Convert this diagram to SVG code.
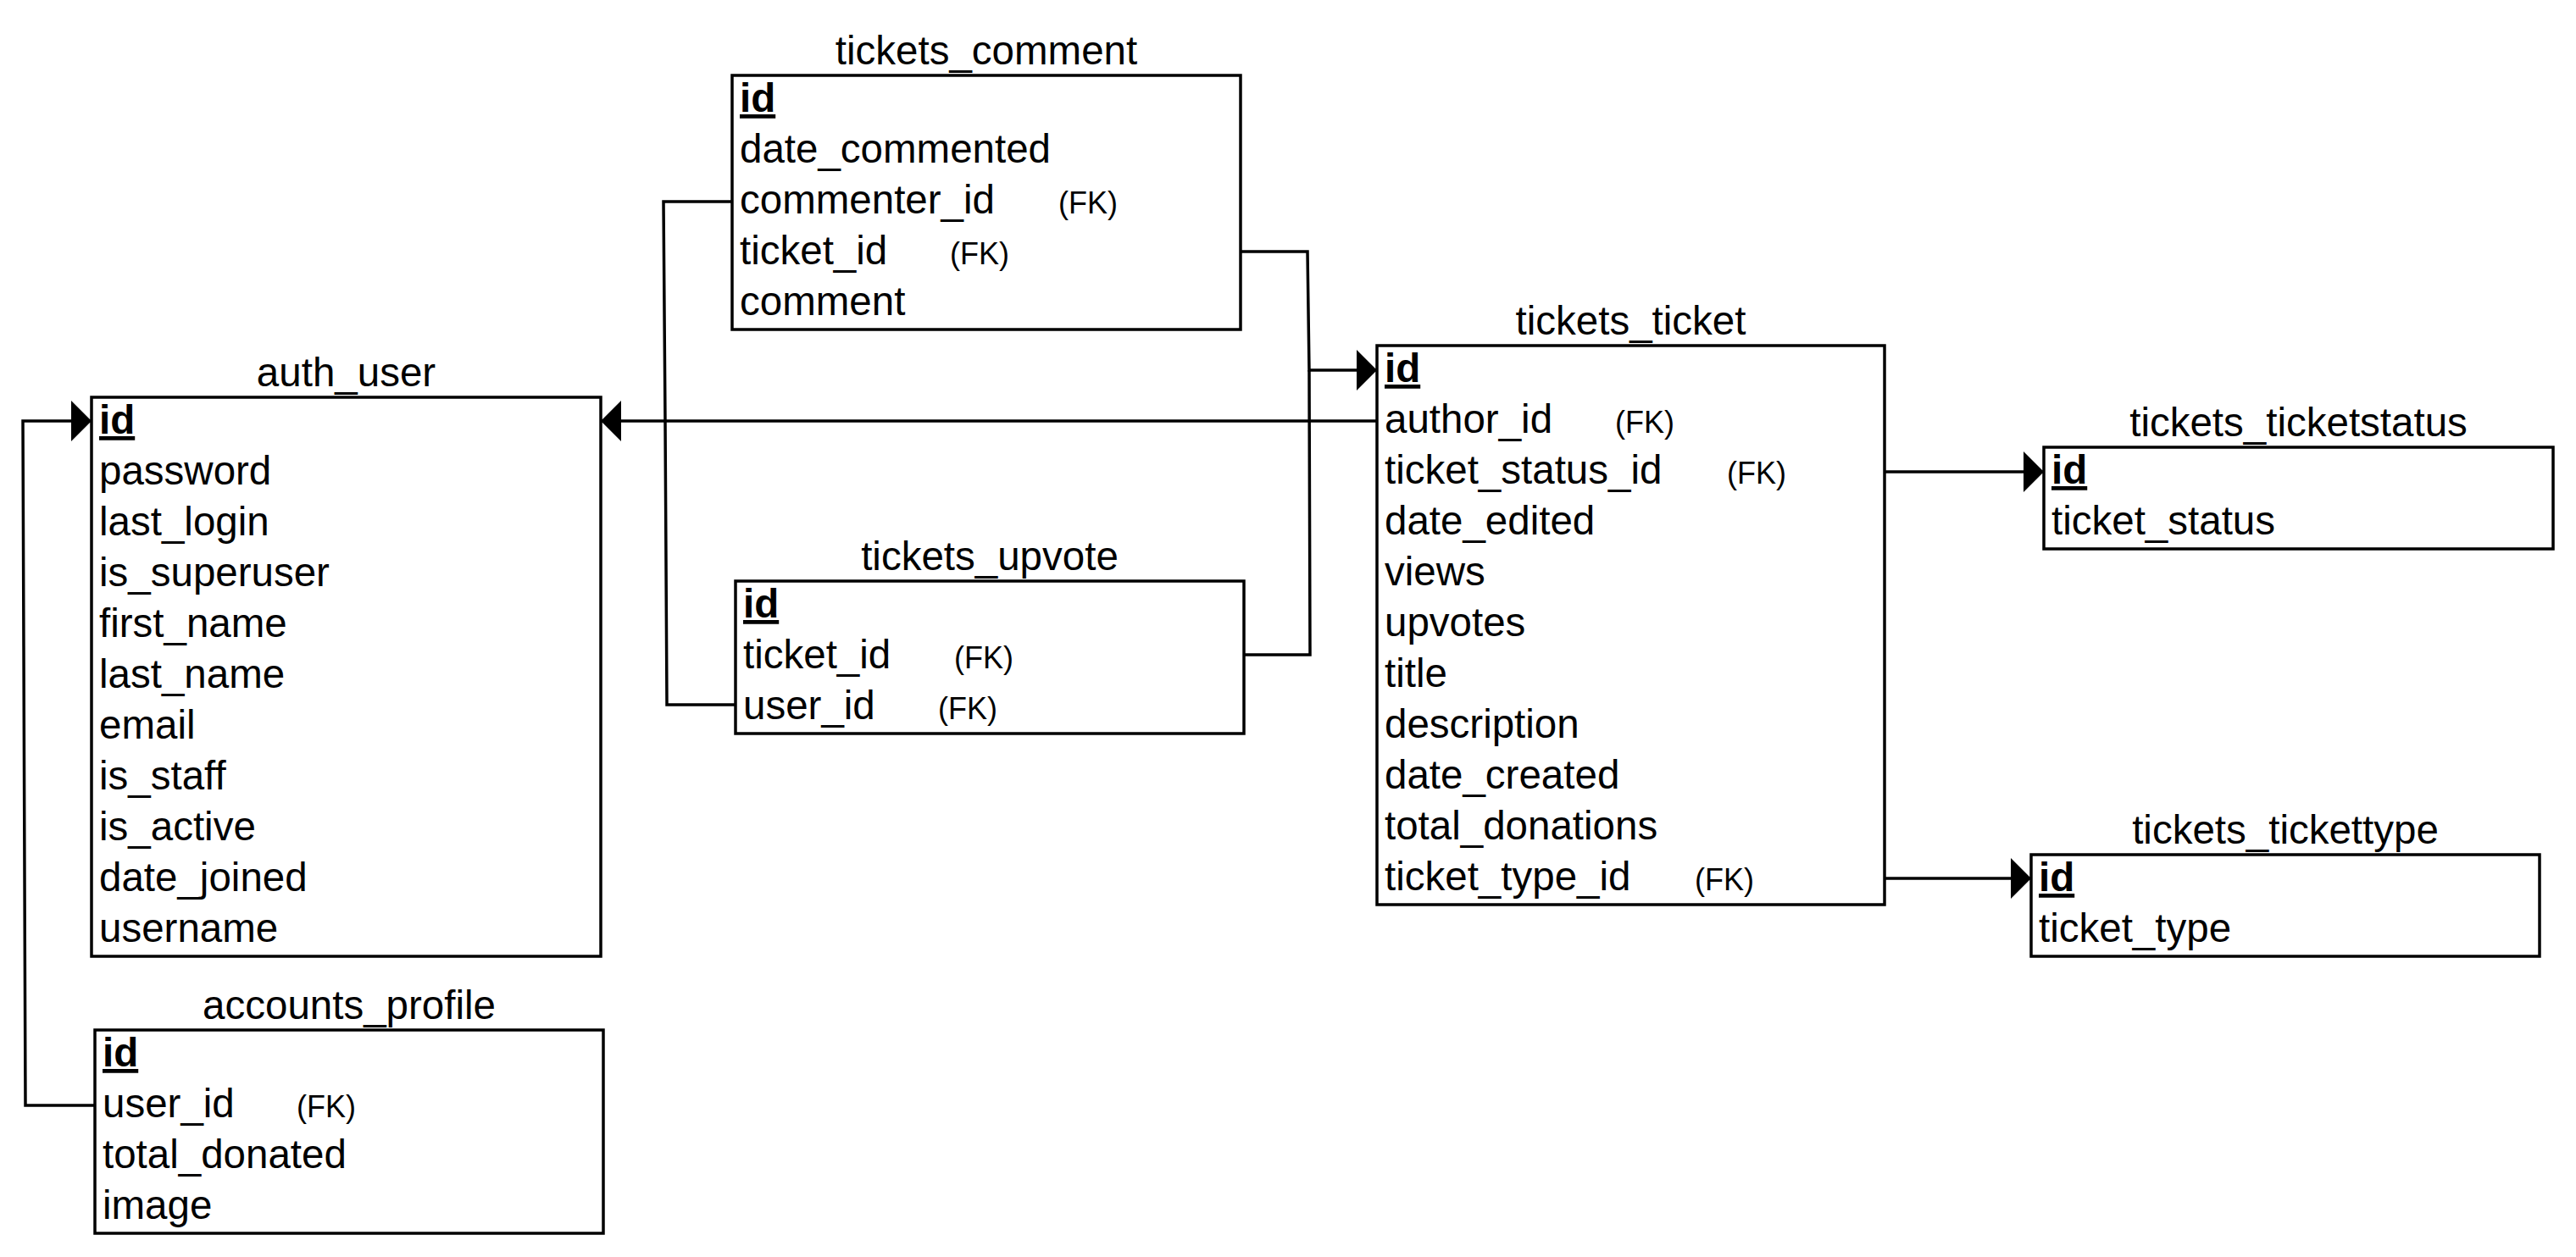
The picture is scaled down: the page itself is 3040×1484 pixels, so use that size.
<svg xmlns="http://www.w3.org/2000/svg" width="3040" height="1484" viewBox="0 0 3040 1484">
<style>
  .box { fill: #ffffff; stroke: #000000; stroke-width: 3.5; }
  .t { font-family: "Liberation Sans", Arial, sans-serif; font-size: 47.5px; fill: #000000; }
  .title { font-family: "Liberation Sans", Arial, sans-serif; font-size: 47.5px; fill: #000000; text-anchor: middle; }
  .pk { font-weight: bold; text-decoration: underline; }
  .fk { font-family: "Liberation Sans", Arial, sans-serif; font-size: 36px; fill: #000000; }
  .conn { fill: none; stroke: #000000; stroke-width: 3.5; stroke-linejoin: miter; }
  .arr { marker-end: url(#block); }
</style>
<defs>
  <marker id="block" markerUnits="userSpaceOnUse" markerWidth="24" markerHeight="48" refX="24" refY="24" orient="auto" viewBox="0 0 24 48">
    <path d="M0,0 L24,24 L0,48 Z" fill="#000000"/>
  </marker>
</defs>
<rect width="3040" height="1484" fill="#ffffff"/>

<g id="connectors">
  <path class="conn arr" d="M112,1305 H30 L27,497 H108"/>
  <path class="conn arr" d="M1625,497 H709"/>
  <path class="conn" d="M864,238 H783 L785,497"/>
  <path class="conn" d="M868,832 H787 L785,497"/>
  <path class="conn arr" d="M1464,297 H1543 L1545,437 H1625"/>
  <path class="conn" d="M1468,773 H1546 L1545,437"/>
  <path class="conn arr" d="M2224,557 H2412"/>
  <path class="conn arr" d="M2224,1037 H2397"/>
</g>

<g id="auth_user">
  <text class="title" x="408.5" y="456">auth_user</text>
  <rect class="box" x="108" y="469" width="601" height="660"/>
  <text class="t pk" x="117" y="512">id</text>
  <text class="t" x="117" y="572">password</text>
  <text class="t" x="117" y="632">last_login</text>
  <text class="t" x="117" y="692">is_superuser</text>
  <text class="t" x="117" y="752">first_name</text>
  <text class="t" x="117" y="812">last_name</text>
  <text class="t" x="117" y="872">email</text>
  <text class="t" x="117" y="932">is_staff</text>
  <text class="t" x="117" y="992">is_active</text>
  <text class="t" x="117" y="1052">date_joined</text>
  <text class="t" x="117" y="1112">username</text>
</g>

<g id="accounts_profile">
  <text class="title" x="412" y="1203">accounts_profile</text>
  <rect class="box" x="112" y="1216" width="600" height="240"/>
  <text class="t pk" x="121" y="1259">id</text>
  <text class="t" x="121" y="1319">user_id</text>
  <text class="fk" x="350" y="1319">(FK)</text>
  <text class="t" x="121" y="1379">total_donated</text>
  <text class="t" x="121" y="1439">image</text>
</g>

<g id="tickets_comment">
  <text class="title" x="1164" y="76">tickets_comment</text>
  <rect class="box" x="864" y="89" width="600" height="300"/>
  <text class="t pk" x="873" y="132">id</text>
  <text class="t" x="873" y="192">date_commented</text>
  <text class="t" x="873" y="252">commenter_id</text>
  <text class="fk" x="1249" y="252">(FK)</text>
  <text class="t" x="873" y="312">ticket_id</text>
  <text class="fk" x="1121" y="312">(FK)</text>
  <text class="t" x="873" y="372">comment</text>
</g>

<g id="tickets_upvote">
  <text class="title" x="1168" y="673">tickets_upvote</text>
  <rect class="box" x="868" y="686" width="600" height="180"/>
  <text class="t pk" x="877" y="729">id</text>
  <text class="t" x="877" y="789">ticket_id</text>
  <text class="fk" x="1126" y="789">(FK)</text>
  <text class="t" x="877" y="849">user_id</text>
  <text class="fk" x="1107" y="849">(FK)</text>
</g>

<g id="tickets_ticket">
  <text class="title" x="1924.5" y="395">tickets_ticket</text>
  <rect class="box" x="1625" y="408" width="599" height="660"/>
  <text class="t pk" x="1634" y="451">id</text>
  <text class="t" x="1634" y="511">author_id</text>
  <text class="fk" x="1906" y="511">(FK)</text>
  <text class="t" x="1634" y="571">ticket_status_id</text>
  <text class="fk" x="2038" y="571">(FK)</text>
  <text class="t" x="1634" y="631">date_edited</text>
  <text class="t" x="1634" y="691">views</text>
  <text class="t" x="1634" y="751">upvotes</text>
  <text class="t" x="1634" y="811">title</text>
  <text class="t" x="1634" y="871">description</text>
  <text class="t" x="1634" y="931">date_created</text>
  <text class="t" x="1634" y="991">total_donations</text>
  <text class="t" x="1634" y="1051">ticket_type_id</text>
  <text class="fk" x="2000" y="1051">(FK)</text>
</g>

<g id="tickets_ticketstatus">
  <text class="title" x="2712.5" y="515">tickets_ticketstatus</text>
  <rect class="box" x="2412" y="528" width="601" height="120"/>
  <text class="t pk" x="2421" y="571">id</text>
  <text class="t" x="2421" y="631">ticket_status</text>
</g>

<g id="tickets_tickettype">
  <text class="title" x="2697" y="996">tickets_tickettype</text>
  <rect class="box" x="2397" y="1009" width="600" height="120"/>
  <text class="t pk" x="2406" y="1052">id</text>
  <text class="t" x="2406" y="1112">ticket_type</text>
</g>
</svg>
